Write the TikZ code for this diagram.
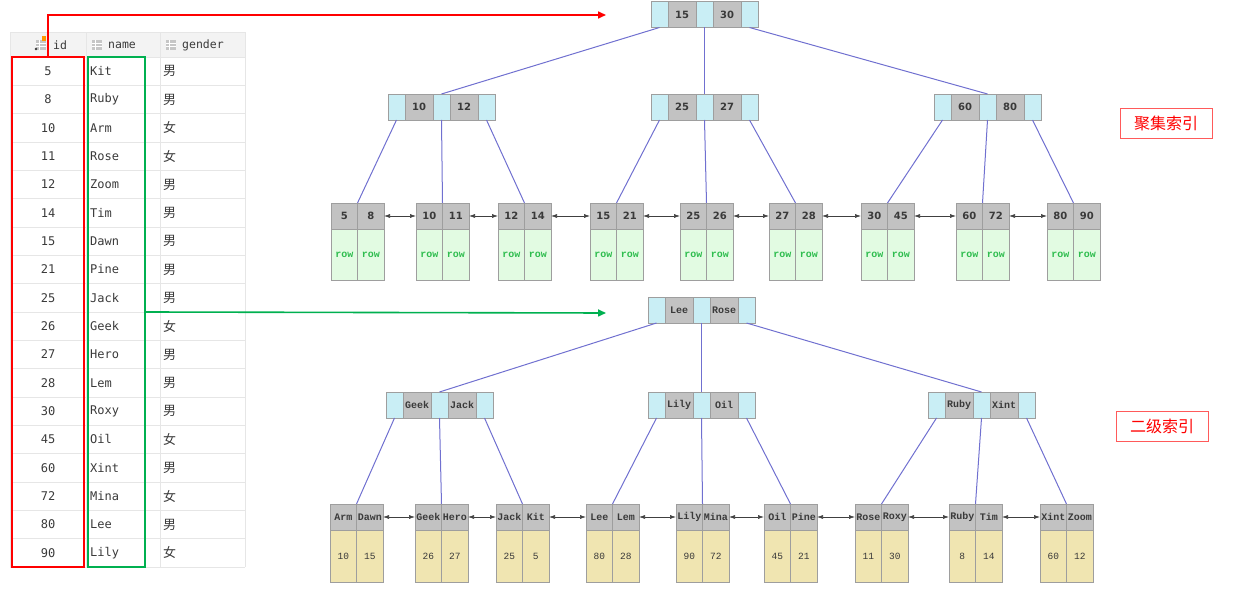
\documentclass[tikz,border=0pt]{standalone}
\usepackage{fontspec}
\usetikzlibrary{positioning,arrows.meta,calc}
\newfontfamily\cjk{Noto Sans CJK SC}
\newfontfamily\tblfont{DejaVu Sans Mono}
\newfontfamily\numfont{DejaVu Sans}
\newfontfamily\codefont{Liberation Mono}
\definecolor{PtrBlue}{HTML}{C9EEF5}
\definecolor{KeyGray}{HTML}{C2C2C2}
\definecolor{CellLine}{HTML}{9E9E9E}
\definecolor{RowGreen}{HTML}{E2FBE2}
\definecolor{RowText}{HTML}{2EBD4E}
\definecolor{ValYellow}{HTML}{F0E5B1}
\definecolor{EdgeBlue}{HTML}{7070D0}
\definecolor{LinkGray}{HTML}{404040}
\definecolor{TblLine}{HTML}{E6E6E6}
\definecolor{TblHead}{HTML}{F3F3F3}
\definecolor{TblText}{HTML}{3A3A3A}
\definecolor{MarkRed}{HTML}{FF0000}
\definecolor{MarkGreen}{HTML}{00B050}
\definecolor{TagRed}{HTML}{FF5A5A}

% inner node: name, x, y, key1, key2
\newcommand{\innernode}[5]{%
  \node[ptr] (#1-p1) at (#2,#3) {};
  \node[keycell, right=0pt of #1-p1] (#1-k1) {#4};
  \node[ptr, right=0pt of #1-k1] (#1-p2) {};
  \node[keycell, right=0pt of #1-p2] (#1-k2) {#5};
  \node[ptr, right=0pt of #1-k2] (#1-p3) {};
}
% leaf node: name, x, y, key1, key2, val1, val2, value style
\newcommand{\leafnode}[8]{%
  \node[leafkey] (#1-a) at (#2,#3) {#4};
  \node[leafkey, right=0pt of #1-a] (#1-b) {#5};
  \node[#8, below=0pt of #1-a] (#1-c) {#6};
  \node[#8, below=0pt of #1-b] (#1-d) {#7};
}
% header icon
\newcommand{\gridicon}[2]{%
  \fill[gray!45] (#1,#2) rectangle ++(10,10);
  \draw[white, line width=0.6pt] (#1+3.5,#2) -- ++(0,10) (#1,#2+3.5) -- ++(10,0) (#1,#2+6.8) -- ++(10,0);
}

\begin{document}
\begin{tikzpicture}[
  x=1pt, y=-1pt,
  cell/.style={draw=CellLine, line width=0.7pt, inner sep=0pt, outer sep=0pt, minimum height=26pt, text=TblText, keytext},
  keytext/.style={font=\numfont\bfseries\fontsize{10}{10}\selectfont},
  ptr/.style={cell, fill=PtrBlue, minimum width=17pt},
  keycell/.style={cell, fill=KeyGray, minimum width=28pt},
  leafkey/.style={cell, fill=KeyGray, minimum width=26.5pt},
  rowcell/.style={cell, fill=RowGreen, minimum width=26.5pt, minimum height=51pt, text=RowText, font=\codefont\bfseries\fontsize{10}{10}\selectfont},
  valcell/.style={cell, fill=ValYellow, minimum width=26.5pt, minimum height=52pt, font=\codefont\fontsize{9.5}{9.5}\selectfont},
  edge/.style={draw=EdgeBlue, line width=1pt},
  link/.style={{Latex[length=6pt,width=4pt]}-{Latex[length=6pt,width=4pt]}, draw=LinkGray, line width=0.6pt},
  tblcell/.style={inner sep=0pt, text=TblText, font=\tblfont\fontsize{12}{12}\selectfont},
  markbox/.style={draw, line width=2pt, inner sep=0pt, minimum height=510pt},
  markline/.style={line width=1.6pt, -{Triangle[length=8pt,width=7pt]}},
  tag/.style={draw=TagRed, line width=0.8pt, text=MarkRed, inner sep=0pt, minimum width=92pt, minimum height=30pt, font=\cjk\fontsize{16}{16}\selectfont}
]
\useasboundingbox (0,0) rectangle (1242,609);

% table
\fill[TblHead] (10,32) rectangle (245,57);
\draw[TblLine] (10,32) -- (245,32) (10,57) -- (245,57);
\draw[TblLine] (10,32) -- (10,567) (86,32) -- (86,567) (160,32) -- (160,567) (245,32) -- (245,567);
\gridicon{36}{40}
\fill[orange!80!yellow] (42,36) rectangle (46,41);
\fill[TblText] (36,49) circle (1.3pt);
\gridicon{92}{40}
\gridicon{166}{40}
\node[tblcell, anchor=west, font=\tblfont\fontsize{11.5}{11.5}\selectfont] (hid) at (53,45) {id};
\node[tblcell, anchor=west, font=\tblfont\fontsize{11.5}{11.5}\selectfont] (hname) at (108,45) {name};
\node[tblcell, anchor=west, font=\tblfont\fontsize{11.5}{11.5}\selectfont] (hgender) at (182,45) {gender};
\foreach \id/\nm/\sx [count=\i] in {5/Kit/男,8/Ruby/男,10/Arm/女,11/Rose/女,12/Zoom/男,14/Tim/男,
    15/Dawn/男,21/Pine/男,25/Jack/男,26/Geek/女,27/Hero/男,28/Lem/男,30/Roxy/男,45/Oil/女,
    60/Xint/男,72/Mina/女,80/Lee/男,90/Lily/女} {
  \pgfmathsetmacro\ry{57+(\i-0.5)*28.33}
  \node[tblcell] (id\i) at (48,\ry) {\id};
  \node[tblcell, anchor=west] (nm\i) at (90,\ry) {\nm};
  \node[tblcell, anchor=west, font=\cjk\fontsize{13}{13}\selectfont] (sx\i) at (163,\ry) {\sx};
  \draw[TblLine] (10,\ry+14.17) -- (245,\ry+14.17);
}
\node[markbox, draw=MarkRed, minimum width=72pt] (idbox) at (48,312) {};
\node[markbox, draw=MarkGreen, minimum width=57pt] (namebox) at (116,312) {};
\coordinate (idtip) at (606,15);
\coordinate (nametip) at (606,313);
\draw[markline, MarkRed] (idbox.north) |- (idtip);
\draw[markline, MarkGreen] (namebox.east) -- (nametip);

% clustered index
\innernode{cr}{659.5}{14.5}{15}{30}
\innernode{ca}{396.5}{107}{10}{12}
\innernode{cb}{659.5}{107}{25}{27}
\innernode{cc}{942.5}{107}{60}{80}
\leafnode{cl1}{344.25}{216}{5}{8}{row}{row}{rowcell}
\leafnode{cl2}{429.25}{216}{10}{11}{row}{row}{rowcell}
\leafnode{cl3}{511.25}{216}{12}{14}{row}{row}{rowcell}
\leafnode{cl4}{603.25}{216}{15}{21}{row}{row}{rowcell}
\leafnode{cl5}{693.25}{216}{25}{26}{row}{row}{rowcell}
\leafnode{cl6}{782.25}{216}{27}{28}{row}{row}{rowcell}
\leafnode{cl7}{874.25}{216}{30}{45}{row}{row}{rowcell}
\leafnode{cl8}{969.25}{216}{60}{72}{row}{row}{rowcell}
\leafnode{cl9}{1060.25}{216}{80}{90}{row}{row}{rowcell}
\draw[edge] (cr-p1.south) -- (ca-p2.north);
\draw[edge] (cr-p2.south) -- (cb-p2.north);
\draw[edge] (cr-p3.south) -- (cc-p2.north);
\draw[edge] (ca-p1.south) -- (cl1-a.north east);
\draw[edge] (ca-p2.south) -- (cl2-a.north east);
\draw[edge] (ca-p3.south) -- (cl3-a.north east);
\draw[edge] (cb-p1.south) -- (cl4-a.north east);
\draw[edge] (cb-p2.south) -- (cl5-a.north east);
\draw[edge] (cb-p3.south) -- (cl6-a.north east);
\draw[edge] (cc-p1.south) -- (cl7-a.north east);
\draw[edge] (cc-p2.south) -- (cl8-a.north east);
\draw[edge] (cc-p3.south) -- (cl9-a.north east);
\foreach \i [evaluate=\i as \j using int(\i+1)] in {1,...,8}
  \draw[link] (cl\i-b.east) -- (cl\j-a.west);
\node[tag] (clustag) at (1166,123) {聚集索引};

% secondary index
\begin{scope}[keytext/.style={font=\codefont\bfseries\fontsize{10}{10}\selectfont}]
\innernode{sr}{656.5}{310}{Lee}{Rose}
\innernode{sa}{394.5}{405}{Geek}{Jack}
\innernode{sb}{656.5}{405}{Lily}{Oil}
\innernode{sc}{936.5}{405}{Ruby}{Xint}
\leafnode{sl1}{343.25}{517}{Arm}{Dawn}{10}{15}{valcell}
\leafnode{sl2}{428.25}{517}{Geek}{Hero}{26}{27}{valcell}
\leafnode{sl3}{509.25}{517}{Jack}{Kit}{25}{5}{valcell}
\leafnode{sl4}{599.25}{517}{Lee}{Lem}{80}{28}{valcell}
\leafnode{sl5}{689.25}{517}{Lily}{Mina}{90}{72}{valcell}
\leafnode{sl6}{777.25}{517}{Oil}{Pine}{45}{21}{valcell}
\leafnode{sl7}{868.25}{517}{Rose}{Roxy}{11}{30}{valcell}
\leafnode{sl8}{962.25}{517}{Ruby}{Tim}{8}{14}{valcell}
\leafnode{sl9}{1053.25}{517}{Xint}{Zoom}{60}{12}{valcell}
\end{scope}
\draw[edge] (sr-p1.south) -- (sa-p2.north);
\draw[edge] (sr-p2.south) -- (sb-p2.north);
\draw[edge] (sr-p3.south) -- (sc-p2.north);
\draw[edge] (sa-p1.south) -- (sl1-a.north east);
\draw[edge] (sa-p2.south) -- (sl2-a.north east);
\draw[edge] (sa-p3.south) -- (sl3-a.north east);
\draw[edge] (sb-p1.south) -- (sl4-a.north east);
\draw[edge] (sb-p2.south) -- (sl5-a.north east);
\draw[edge] (sb-p3.south) -- (sl6-a.north east);
\draw[edge] (sc-p1.south) -- (sl7-a.north east);
\draw[edge] (sc-p2.south) -- (sl8-a.north east);
\draw[edge] (sc-p3.south) -- (sl9-a.north east);
\foreach \i [evaluate=\i as \j using int(\i+1)] in {1,...,8}
  \draw[link] (sl\i-b.east) -- (sl\j-a.west);
\node[tag] (sectag) at (1162,426) {二级索引};
\end{tikzpicture}
\end{document}
